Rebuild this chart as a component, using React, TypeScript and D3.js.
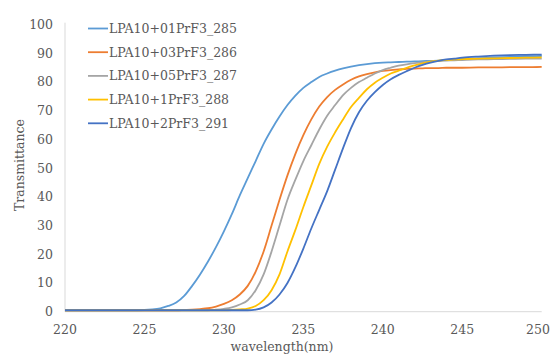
import React from "react";
import * as d3 from "d3";

const wavelengths = [220,221,222,223,224,225,225.5,226,226.5,227,227.5,228,228.5,229,229.5,230,230.5,231,231.5,232,232.5,233,233.5,234,234.5,235,235.5,236,236.5,237,237.5,238,238.5,239,239.5,240,240.5,241,241.5,242,242.5,243,243.5,244,244.5,245,246,247,248,249,250];

const s285 = [0.5,0.5,0.5,0.5,0.5,0.6,0.8,1.2,2.0,3.2,5.5,9,13,17.5,22.5,28,34,40.5,46.5,52.5,58.5,63.5,68,72,75.3,78,80,81.8,83,84,84.8,85.4,85.9,86.3,86.6,86.8,86.9,87,87.1,87.2,87.3,87.4,87.5,87.7,87.8,88,88.3,88.6,88.8,89,89.1];
const s286 = [0.5,0.5,0.5,0.5,0.5,0.5,0.5,0.5,0.5,0.5,0.6,0.7,0.9,1.2,1.8,2.7,4,6,9,14,21,30,39,47.5,55,61.5,67,71.5,74.8,77.3,79.2,80.8,82,82.8,83.4,83.9,84.2,84.4,84.6,84.7,84.8,84.9,84.9,85,85,85,85.1,85.1,85.2,85.2,85.3];
const s287 = [0.5,0.5,0.5,0.5,0.5,0.5,0.5,0.5,0.5,0.5,0.5,0.5,0.5,0.5,0.7,1.0,1.5,2.5,4,7.5,13,21,30,39,46,52.5,58,63.5,68.3,72,75.5,78,80,81.5,83,84.2,85,85.7,86.2,86.6,86.9,87.2,87.4,87.5,87.6,87.7,87.9,88,88.1,88.2,88.2];
const s288 = [0.5,0.5,0.5,0.5,0.5,0.5,0.5,0.5,0.5,0.5,0.5,0.5,0.5,0.5,0.5,0.5,0.6,0.8,1.1,2,4,7.5,13,21,28.5,36.5,44,51.5,57.5,62.5,67,71.3,74.5,77.5,79.8,81.5,83,84,85,85.8,86.5,87.1,87.5,87.7,87.9,88,88.2,88.3,88.4,88.5,88.6];
const s291 = [0.5,0.5,0.5,0.5,0.5,0.5,0.5,0.5,0.5,0.5,0.5,0.5,0.5,0.5,0.5,0.5,0.5,0.5,0.5,0.7,1.5,3.2,6,10,15.5,22,29,35.5,42,49.5,57,64,69.5,73.5,76.5,79,81,82.5,83.8,85,86,86.8,87.4,87.9,88.2,88.5,88.9,89.2,89.4,89.5,89.6];

const seriesNames = ["LPA10+01PrF3_285","LPA10+03PrF3_286","LPA10+05PrF3_287","LPA10+1PrF3_288","LPA10+2PrF3_291"];
const seriesValues = [s285, s286, s287, s288, s291];
const seriesColors = ["#5B9BD5","#ED7D31","#A5A5A5","#FFC000","#4472C4"];

const xTicks = [220,225,230,235,240,245,250];
const yTicks = [0,10,20,30,40,50,60,70,80,90,100];

const W = 551, H = 354;
const txt: React.CSSProperties = { fontFamily: "'DejaVu Serif', serif", fontSize: "12.5px" };

export default function App() {
  const x = d3.scaleLinear().domain([220, 250]).range([65, 541.7]);
  const y = d3.scaleLinear().domain([0, 100]).range([311.7, 24.7]);
  const line = d3.line<[number, number]>()
    .x(d => x(d[0]))
    .y(d => y(d[1]))
    .curve(d3.curveMonotoneX);

  return (
    <svg width={W} height={H} style={{ position: "absolute", left: 0, top: 0, background: "#fff" }}>
      <rect x={0} y={0} width={W} height={H} fill="#fff" />
      <line x1={x(220)} x2={x(220)} y1={y(100) - 2} y2={y(0)} stroke="#d9d9d9" strokeWidth={1} />
      <line x1={x(220)} x2={x(250)} y1={y(0)} y2={y(0)} stroke="#d9d9d9" strokeWidth={1} />
      {yTicks.map(t => (
        <text key={"y" + t} x={53} y={y(t)} dy="0.35em" textAnchor="end" style={txt} fill="#595959">{t}</text>
      ))}
      {xTicks.map(t => (
        <text key={"x" + t} x={Math.min(x(t), 538)} y={330} dy="0.35em" textAnchor="middle" style={txt} fill="#595959">{t}</text>
      ))}
      <text x={282} y={347} dy="0.35em" textAnchor="middle" style={txt} fill="#595959">wavelength(nm)</text>
      <text transform={`translate(20,165) rotate(-90)`} textAnchor="middle" dy="0.35em" style={txt} fill="#595959">Transmittance</text>
      {seriesValues.map((vals, i) => (
        <path key={"s" + i}
          d={line(wavelengths.map((w, k) => [w, vals[k]] as [number, number])) || ""}
          fill="none" stroke={seriesColors[i]} strokeWidth={1.8} />
      ))}
      {seriesNames.map((n, i) => {
        const ly = 28.5 + i * 23.7;
        return (
          <g key={"l" + i}>
            <line x1={88} x2={108} y1={ly} y2={ly} stroke={seriesColors[i]} strokeWidth={1.8} />
            <text x={109} y={ly} dy="0.35em" style={txt} fill="#595959">{n}</text>
          </g>
        );
      })}
    </svg>
  );
}
